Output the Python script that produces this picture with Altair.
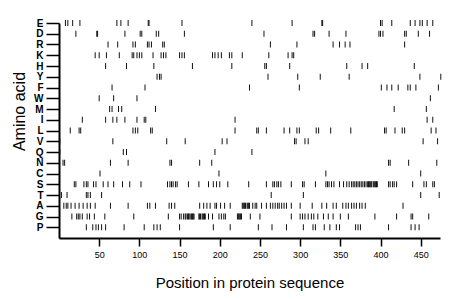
import altair as alt
import pandas as pd

amino = ["E", "D", "R", "K", "H", "Y", "F", "W", "M", "I",
         "L", "V", "Q", "N", "C", "S", "T", "A", "G", "P"]

pos_E = [8, 11, 17, 26, 72, 77, 86, 111, 112, 153, 240, 290, 327, 328,
         400, 402, 414, 437, 443, 449, 452, 458, 465]
pos_D = [21, 47, 48, 82, 101, 103, 121, 124, 156, 255, 316, 318, 336, 357,
         398, 400, 403, 430, 432, 447, 461]
pos_R = [61, 73, 92, 95, 110, 112, 115, 129, 131, 263, 296, 341, 349, 356,
         362, 430]
pos_K = [45, 50, 59, 75, 91, 93, 97, 100, 103, 117, 127, 130, 133, 150, 153,
         156, 191, 194, 198, 202, 212, 215, 228, 261, 285, 290, 292]
pos_H = [58, 84, 118, 166, 215, 256, 258, 287, 358, 377, 384, 442]
pos_Y = [122, 125, 127, 260, 297, 325, 361, 449, 475]
pos_F = [66, 107, 237, 299, 401, 408, 414, 422, 434, 437, 444, 472]
pos_W = [50, 68, 97, 462]
pos_M = [63, 66, 74, 78, 120, 417, 457]
pos_I = [29, 58, 67, 72, 82, 97, 106, 108, 219, 458, 465]
pos_L = [14, 25, 27, 92, 95, 98, 114, 116, 219, 246, 248, 258, 280, 287, 296,
         299, 320, 323, 338, 363, 405, 407, 418, 427, 430, 463, 469]
pos_V = [1, 67, 134, 157, 203, 209, 293, 295, 306, 310, 453, 471]
pos_Q = [1, 80, 84, 194, 240]
pos_N = [5, 7, 64, 86, 138, 140, 175, 190, 410, 412, 435, 470]
pos_C = [51, 199, 332, 450]
pos_S = [19, 21, 31, 34, 36, 43, 46, 55, 61, 68, 79, 88, 102, 135, 138, 140,
         142, 145, 147, 161, 174, 186, 192, 196, 200, 210, 236, 258, 266, 268,
         271, 273, 276, 289, 303, 305, 319, 332, 334, 336, 339, 342, 349, 354,
         358, 361, 364, 366, 368, 370, 372, 374, 376, 378, 380, 382, 384, 385,
         386, 387, 388, 389, 391, 392, 393, 394, 395, 396, 410, 412, 415, 417,
         420, 440, 454, 457, 465, 467]
pos_T = [3, 10, 34, 36, 39, 53, 264, 304, 450, 473]
pos_A = [6, 9, 11, 15, 20, 25, 30, 35, 39, 45, 64, 86, 110, 113, 120, 137,
         140, 144, 175, 180, 184, 188, 194, 196, 201, 206, 213, 228, 229, 230,
         231, 232, 234, 235, 236, 237, 241, 244, 246, 252, 258, 263, 266, 269,
         272, 274, 277, 280, 283, 289, 300, 315, 327, 333, 341, 345, 353, 357,
         360, 364, 367, 370, 374, 377, 381, 428]
pos_G = [16, 22, 24, 26, 29, 35, 38, 44, 57, 93, 136, 150, 152, 155, 157, 158,
         160, 161, 162, 164, 165, 166, 167, 168, 174, 175, 176, 178, 179, 180,
         181, 182, 186, 191, 199, 202, 205, 207, 222, 223, 224, 225, 226, 227,
         238, 250, 289, 300, 303, 306, 310, 314, 317, 322, 329, 335, 341, 350,
         360, 393, 420, 438, 440, 460]
pos_P = [34, 42, 46, 49, 53, 58, 81, 106, 118, 122, 126, 150, 192, 213, 248,
         265, 283, 304, 316, 319, 330, 337, 345, 349, 369, 372, 375, 410, 438,
         443, 448]

x_ticks = [50, 100, 150, 200, 250, 300, 350, 400, 450]

positions = {"E": pos_E, "D": pos_D, "R": pos_R, "K": pos_K, "H": pos_H,
             "Y": pos_Y, "F": pos_F, "W": pos_W, "M": pos_M, "I": pos_I,
             "L": pos_L, "V": pos_V, "Q": pos_Q, "N": pos_N, "C": pos_C,
             "S": pos_S, "T": pos_T, "A": pos_A, "G": pos_G, "P": pos_P}

n = len(amino)
records = []
for i, aa in enumerate(amino):
    for p in positions[aa]:
        records.append({"aa": aa, "pos": p, "row": n - i})
df = pd.DataFrame(records)

label_list = ",".join("'" + a + "'" for a in reversed(amino))
label_expr = "[" + label_list + "][datum.value - 1]"

font = "Liberation Sans"

chart = alt.Chart(df).mark_tick(
    orient="vertical", size=6, thickness=1, color="#111111", opacity=1
).encode(
    x=alt.X("pos:Q",
            scale=alt.Scale(domain=[0, 474], nice=False, zero=False),
            axis=alt.Axis(values=x_ticks, title="Position in protein sequence",
                          grid=False, tickSize=8, tickWidth=1.5, tickColor="#000",
                          domainColor="#000", domainWidth=2,
                          labelFont=font, labelFontSize=9, labelColor="#000",
                          labelPadding=4, labelFlush=False,
                          titleFont=font, titleFontSize=15,
                          titleFontWeight="normal", titleColor="#000",
                          titlePadding=16)),
    y=alt.Y("row:Q",
            scale=alt.Scale(domain=[0, n], nice=False, zero=True),
            axis=alt.Axis(values=list(range(1, n + 1)), labelExpr=label_expr,
                          title="Amino acid", grid=False, tickSize=13,
                          tickWidth=1.5, tickColor="#000",
                          domainColor="#000", domainWidth=2,
                          labelFont=font, labelFontSize=10,
                          labelFontWeight="bold", labelColor="#000",
                          labelPadding=3, labelFlush=False,
                          titleFont=font, titleFontSize=16,
                          titleFontWeight="normal", titleColor="#000",
                          titlePadding=6, titleY=88)),
).properties(
    width=381, height=215,
    padding={"left": 51, "top": 15, "right": 12, "bottom": 53},
    autosize=alt.AutoSizeParams(type="none"),
).configure_view(stroke=None)

chart.save("out.html", embed_options={"renderer": "svg", "actions": False})
